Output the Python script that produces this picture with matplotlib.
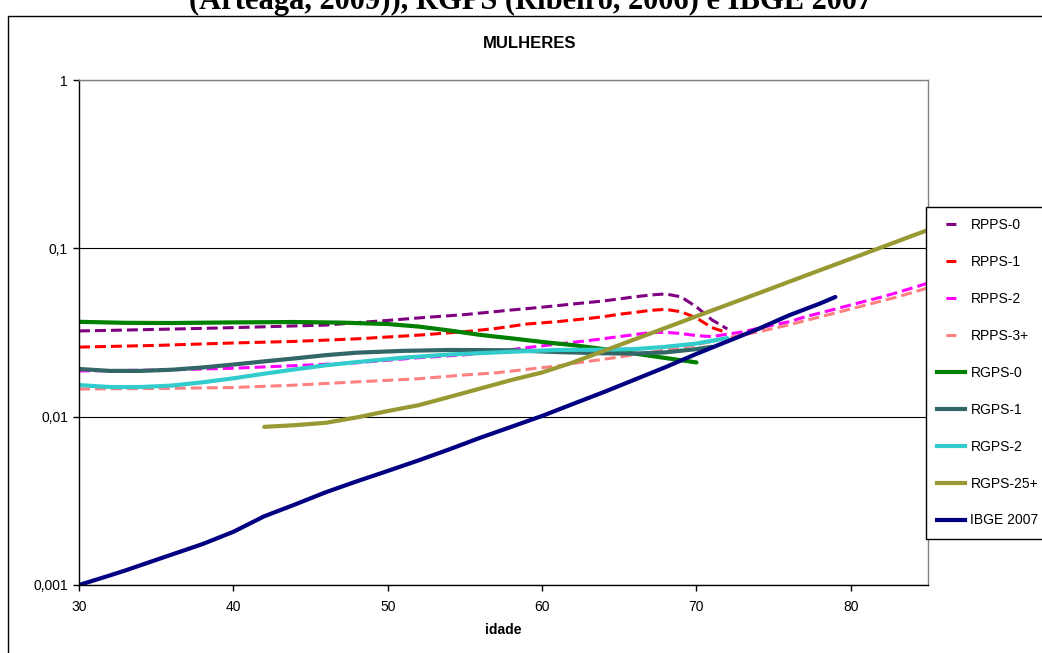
import matplotlib
matplotlib.use("Agg")
import matplotlib.pyplot as plt
from matplotlib.lines import Line2D
from matplotlib.patches import Rectangle
from matplotlib.ticker import FixedLocator, FixedFormatter, NullLocator

plt.rcParams['lines.scale_dashes'] = False
plt.rcParams['font.family'] = ['Liberation Sans', 'DejaVu Sans']

# ---------------- data ----------------
title_text = "(Arteaga, 2009)), RGPS (Ribeiro, 2006) e IBGE 2007"
subtitle_text = "MULHERES"
x_label = "idade"
x_ticks = [30, 40, 50, 60, 70, 80]
y_ticks = [0.001, 0.01, 0.1, 1]
y_tick_labels = ["0,001", "0,01", "0,1", "1"]

rpps0_age = [30, 33, 37, 40, 44, 46, 48, 50, 52, 55, 58, 60, 62, 64, 66, 67, 68, 69, 70, 71, 72]
rpps0_val = [0.0323, 0.0327, 0.0333, 0.0338, 0.0346, 0.0350, 0.0362, 0.0373, 0.0386, 0.0404, 0.0430,
             0.0447, 0.0467, 0.0487, 0.0515, 0.0528, 0.0536, 0.0515, 0.0449, 0.0376, 0.0332]

rpps1_age = [30, 35, 40, 44, 48, 52, 55, 57, 59, 61, 63, 64, 65, 66, 67, 68, 69, 70, 71, 72]
rpps1_val = [0.0259, 0.0265, 0.0274, 0.0280, 0.0290, 0.0305, 0.0320, 0.0334, 0.0355, 0.0367, 0.0383,
             0.0393, 0.0406, 0.0416, 0.0428, 0.0434, 0.0420, 0.0386, 0.0338, 0.0315]

rpps2_age = [30, 35, 40, 44, 48, 52, 55, 57, 59, 61, 63, 65, 67, 68, 69, 70, 71, 72, 73, 74, 75, 76,
             77, 78, 79, 80, 81, 82, 83, 84, 85]
rpps2_val = [0.0187, 0.0189, 0.0194, 0.0201, 0.0209, 0.0224, 0.0233, 0.0243, 0.0257, 0.0270, 0.0283,
             0.0299, 0.0316, 0.0317, 0.0312, 0.0303, 0.0299, 0.0309, 0.0319, 0.0335, 0.0351, 0.0366,
             0.0391, 0.0413, 0.0436, 0.0461, 0.0487, 0.0514, 0.0546, 0.0582, 0.0622]

rpps3_age = [30, 35, 40, 44, 48, 52, 55, 57, 59, 61, 62, 65, 68, 70, 72, 74, 76, 77, 79, 81, 83, 85]
rpps3_val = [0.0146, 0.0147, 0.0149, 0.0154, 0.0161, 0.0168, 0.0177, 0.0182, 0.0191, 0.0200, 0.0207,
             0.0226, 0.0249, 0.0267, 0.0294, 0.0319, 0.0351, 0.0371, 0.0413, 0.0461, 0.0514, 0.0582]

rgps0_age = [30, 33, 36, 40, 44, 47, 50, 52, 54, 56, 58, 60, 62, 64, 66, 68, 70]
rgps0_val = [0.0366, 0.0361, 0.0360, 0.0363, 0.0365, 0.0362, 0.0355, 0.0343, 0.0325, 0.0306, 0.0292,
             0.0278, 0.0266, 0.0252, 0.0237, 0.0223, 0.0210]

rgps1_age = [30, 32, 34, 36, 38, 40, 42, 44, 46, 48, 51, 54, 58, 61, 64, 66, 68, 70, 71]
rgps1_val = [0.0192, 0.0187, 0.0187, 0.0190, 0.0196, 0.0204, 0.0213, 0.0222, 0.0232, 0.0240, 0.0246,
             0.0249, 0.0248, 0.0242, 0.0238, 0.0237, 0.0241, 0.0252, 0.0260]

rgps2_age = [30, 32, 34, 36, 38, 40, 42, 44, 46, 48, 51, 54, 58, 61, 64, 66, 68, 70, 72]
rgps2_val = [0.0154, 0.0150, 0.0150, 0.0153, 0.0160, 0.0169, 0.0180, 0.0191, 0.0202, 0.0211, 0.0224,
             0.0234, 0.0243, 0.0249, 0.0250, 0.0252, 0.0260, 0.0272, 0.0293]

rgps25_age = [42, 44, 46, 48, 50, 52, 54, 56, 58, 60, 62, 64, 66, 68, 70, 72, 74, 76, 78, 80, 82, 84, 85]
rgps25_val = [0.0087, 0.0089, 0.0092, 0.0099, 0.0108, 0.0117, 0.0131, 0.0147, 0.0165, 0.0183, 0.0210,
              0.0246, 0.0288, 0.0337, 0.0395, 0.0462, 0.0540, 0.0633, 0.0741, 0.0867, 0.1015, 0.1189, 0.1285]

ibge_age = [30, 32, 33, 35, 38, 40, 42, 44, 46, 48, 50, 52, 54, 56, 58, 60, 62, 64, 66, 68, 70, 72,
            74, 76, 78, 79]
ibge_val = [0.00100, 0.00114, 0.00122, 0.00141, 0.00175, 0.00207, 0.00256, 0.00301, 0.00356, 0.00413,
            0.00476, 0.00550, 0.00640, 0.00750, 0.00870, 0.0101, 0.0119, 0.0140, 0.0166, 0.0197,
            0.0236, 0.0280, 0.0332, 0.0400, 0.0470, 0.0514]

series = [
    ("RPPS-0", rpps0_age, rpps0_val, "#800080", True),
    ("RPPS-1", rpps1_age, rpps1_val, "#FF0000", True),
    ("RPPS-2", rpps2_age, rpps2_val, "#FF00FF", True),
    ("RPPS-3+", rpps3_age, rpps3_val, "#FF8080", True),
    ("RGPS-0", rgps0_age, rgps0_val, "#008000", False),
    ("RGPS-1", rgps1_age, rgps1_val, "#336666", False),
    ("RGPS-2", rgps2_age, rgps2_val, "#33CCCC", False),
    ("RGPS-25+", rgps25_age, rgps25_val, "#999933", False),
    ("IBGE 2007", ibge_age, ibge_val, "#000080", False),
]

# ---------------- figure ----------------
W, H = 1042, 653
fig = plt.figure(figsize=(W / 100, H / 100), dpi=100)
fig.patch.set_facecolor("white")

# outer chart frame (extends beyond the image to the right/bottom)
fig.add_artist(Rectangle((8 / W, -0.2), 1.5, 1.2 - 16 / H, transform=fig.transFigure,
                         fill=False, edgecolor="black", linewidth=1.0))

left, right, top, bottom = 79, 928, 80, 585
ax = fig.add_axes([left / W, 1 - bottom / H, (right - left) / W, (bottom - top) / H])

dash_style = (0, (7.9, 3.6))
handles = []
for name, xs, ys, col, dashed in series:
    if dashed:
        ax.plot(xs, ys, color=col, lw=2.2, linestyle=dash_style, dash_capstyle="butt",
                solid_capstyle="butt")
        handles.append(Line2D([], [], color=col, lw=2.2, linestyle=(40.8, (7.2, 40)),
                              dash_capstyle="butt", label=name))
    else:
        ax.plot(xs, ys, color=col, lw=3.0, solid_capstyle="round", solid_joinstyle="round")
        handles.append(Line2D([], [], color=col, lw=3.0, label=name))

ax.set_yscale("log")
ax.set_xlim(30, 85)
ax.set_ylim(0.001, 1)
ax.yaxis.set_major_locator(FixedLocator(y_ticks))
ax.yaxis.set_major_formatter(FixedFormatter(y_tick_labels))
ax.yaxis.set_minor_locator(NullLocator())
ax.xaxis.set_major_locator(FixedLocator(x_ticks))
ax.xaxis.set_minor_locator(NullLocator())

ax.tick_params(axis="both", direction="out", length=4, width=1, color="black",
               labelsize=10, pad=4)
ax.tick_params(axis="x", pad=7)
ax.set_axisbelow(True)
ax.grid(axis="y", which="major", color="black", linewidth=0.8)

for s in ["left", "bottom"]:
    ax.spines[s].set_color("black")
    ax.spines[s].set_linewidth(1.0)
for s in ["top", "right"]:
    ax.spines[s].set_color("#808080")
    ax.spines[s].set_linewidth(1.0)

ax.set_xlabel(x_label, fontsize=10, fontweight="bold", labelpad=6)

# titles
fig.text(531 / W, 1 - 9 / H, title_text, ha="center", va="baseline", fontsize=22,
         fontweight="bold", family=["Liberation Serif", "DejaVu Serif"])
fig.text(530 / W, 1 - 44 / H, subtitle_text, ha="center", va="center", fontsize=12,
         fontweight="bold")

leg = fig.legend(handles=handles, loc="upper left", bbox_to_anchor=(926 / W, 1 - 207 / H),
                 bbox_transform=fig.transFigure, fontsize=10, frameon=True, fancybox=False,
                 borderpad=0.8, labelspacing=1.65, handlelength=2.0, handletextpad=0.4,
                 borderaxespad=0)
leg.get_frame().set_edgecolor("black")
leg.get_frame().set_linewidth(1.0)
leg.get_frame().set_alpha(1)

fig.savefig("out.png", dpi=100)
